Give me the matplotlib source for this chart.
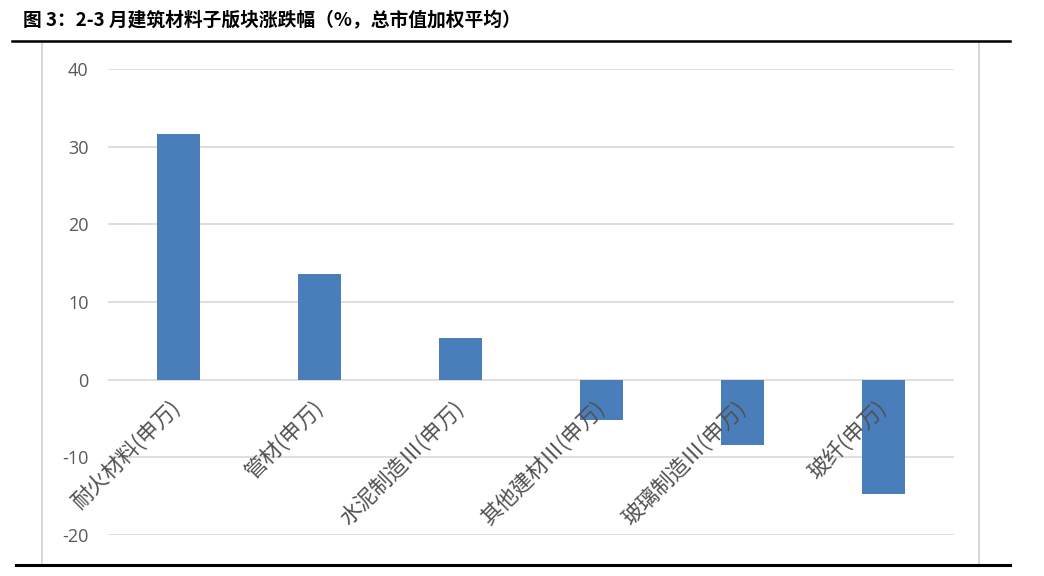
import matplotlib
matplotlib.use("Agg")
import matplotlib.pyplot as plt
from matplotlib.lines import Line2D

plt.rcParams['font.family'] = ['Noto Sans CJK SC', 'DejaVu Sans']

categories = ['耐火材料(申万)', '管材(申万)', '水泥制造Ⅲ(申万)', '其他建材Ⅲ(申万)', '玻璃制造Ⅲ(申万)', '玻纤(申万)']
values = [31.6, 13.6, 5.4, -5.2, -8.4, -14.7]
yticks = [-20, -10, 0, 10, 20, 30, 40]
title = '图 3：2-3 月建筑材料子版块涨跌幅（%，总市值加权平均）'

W, H = 1044, 576
fig = plt.figure(figsize=(W / 100, H / 100), dpi=100)
fig.patch.set_facecolor('white')

def fx(px):
    return px / W

def fy(py):
    return 1 - py / H

ax = fig.add_axes([fx(108), fy(535), fx(954) - fx(108), fy(69) - fy(535)])
ax.set_facecolor('none')
x = list(range(len(categories)))
ax.bar(x, values, width=0.31, color='#4A7EBB', zorder=3)
ax.set_xlim(-0.5, len(categories) - 0.5)
ax.set_ylim(-20, 40)
ax.set_yticks(yticks)
ax.set_yticklabels([str(v) for v in yticks], color='#595959', fontsize=13,
                   family=['Open Sans', 'DejaVu Sans'])
ax.tick_params(axis='y', length=0, pad=14)
ax.grid(axis='y', color='#D9D9D9', linewidth=1.2, zorder=0)
for s in ax.spines.values():
    s.set_visible(False)
ax.set_xticks([])

# category labels anchored just below the zero line
for xi, lab in zip(x, categories):
    ax.annotate(lab, xy=(xi, 0), xycoords='data', xytext=(-8, -17),
                textcoords='offset pixels', rotation=45, rotation_mode='anchor',
                ha='right', va='top', fontsize=15.5, color='#505050',
                fontweight='light', zorder=4)

# outer frame lines
fig.add_artist(Line2D([fx(42), fx(42)], [fy(41), fy(563)], color='#D0D0D0', lw=1.2))
fig.add_artist(Line2D([fx(979), fx(979)], [fy(41), fy(563)], color='#D0D0D0', lw=1.2))
fig.add_artist(Line2D([fx(12), fx(1010)], [fy(41), fy(41)], color='black', lw=1.8))
fig.add_artist(Line2D([fx(16), fx(1010)], [fy(565), fy(565)], color='black', lw=2.2))

fig.text(fx(23), fy(21), title, fontsize=13.5, fontweight='heavy', color='black',
         ha='left', va='center')

fig.savefig('out.png', dpi=100, facecolor='white')
